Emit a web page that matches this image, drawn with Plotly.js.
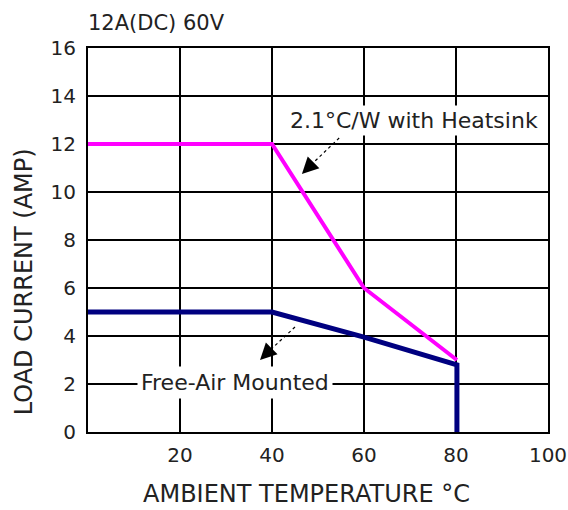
<!DOCTYPE html>
<html>
<head>
<meta charset="utf-8">
<script src="https://cdn.plot.ly/plotly-3.0.1.min.js"></script>
<style>html,body{margin:0;padding:0;background:#fff;}#chart{width:568px;height:510px;}</style>
</head>
<body>
<div id="chart"></div>
<script>
// Data
const tempHeatsink = [0, 40, 60, 80.2];
const currentHeatsink = [12, 12, 6, 3];
const tempFreeAir = [0, 40, 60, 80.2, 80.2];
const currentFreeAir = [5, 5, 3.95, 2.8, 0];
const xTicks = [20, 40, 60, 80, 100];
const yTicks = [0, 2, 4, 6, 8, 10, 12, 14, 16];

const font = 'DejaVu Sans, Verdana, sans-serif';

const traces = [
  {x: tempHeatsink, y: currentHeatsink, mode: 'lines', line: {color: '#ff00ff', width: 4}, hoverinfo: 'skip'},
  {x: tempFreeAir, y: currentFreeAir, mode: 'lines', line: {color: '#000080', width: 5}, hoverinfo: 'skip'}
];

const layout = {
  width: 568, height: 510,
  margin: {l: 88, r: 20, t: 48, b: 78},
  paper_bgcolor: '#fff', plot_bgcolor: '#fff',
  showlegend: false,
  font: {family: font, color: '#000'},
  xaxis: {
    range: [0, 100], tickvals: xTicks, ticktext: xTicks.map(String),
    showgrid: true, gridcolor: '#000', gridwidth: 1.5, zeroline: false,
    showline: true, linecolor: '#000', linewidth: 2, mirror: true,
    ticks: '', tickfont: {family: font, size: 20, color: '#222'}, ticklabelstandoff: 4,
    fixedrange: true
  },
  yaxis: {
    range: [0, 16], tickvals: yTicks, ticktext: yTicks.map(String),
    showgrid: true, gridcolor: '#000', gridwidth: 1.5, zeroline: false,
    showline: true, linecolor: '#000', linewidth: 2, mirror: true,
    ticks: '', tickfont: {family: font, size: 20, color: '#222'}, ticklabelstandoff: 6,
    fixedrange: true
  },
  shapes: [
    {type: 'line', xref: 'x', yref: 'y', x0: 54.6, y0: 12.25, x1: 47.5, y1: 10.95, line: {color: '#000', width: 1.2, dash: 'dot'}},
    {type: 'line', xref: 'x', yref: 'y', x0: 45, y0: 4.375, x1: 38.4, y1: 3.2, line: {color: '#000', width: 1.2, dash: 'dot'}}
  ],
  annotations: [
    {text: '12A(DC) 60V', xref: 'paper', yref: 'paper', x: -0.005, y: 1.065, xanchor: 'left', yanchor: 'middle', showarrow: false, font: {family: font, size: 21, color: '#222'}},
    {text: 'LOAD CURRENT (AMP)', xref: 'paper', yref: 'paper', x: -0.139, y: 0.39, xanchor: 'center', yanchor: 'middle', textangle: -90, showarrow: false, font: {family: font, size: 24, color: '#222'}},
    {text: 'AMBIENT TEMPERATURE °C', xref: 'paper', yref: 'paper', x: 0.474, y: -0.161, xanchor: 'center', yanchor: 'middle', showarrow: false, font: {family: font, size: 24, color: '#222'}},
    {text: '2.1°C/W with Heatsink', xref: 'x', yref: 'y', x: 70.9, y: 13.0, xanchor: 'center', yanchor: 'middle', showarrow: false, bgcolor: '#fff', borderpad: 2, font: {family: font, size: 22, color: '#222'}},
    {text: 'Free-Air Mounted', xref: 'x', yref: 'y', x: 32, y: 2.05, xanchor: 'center', yanchor: 'middle', showarrow: false, bgcolor: '#fff', borderpad: 3, font: {family: font, size: 22, color: '#222'}},
    {text: '', xref: 'x', yref: 'y', x: 46.5, y: 10.75, ax: 12, ay: -12, showarrow: true, arrowhead: 2, arrowsize: 1.5, arrowwidth: 2.2, arrowcolor: '#000', standoff: 0},
    {text: '', xref: 'x', yref: 'y', x: 37.4, y: 3.0, ax: 12, ay: -12, showarrow: true, arrowhead: 2, arrowsize: 1.5, arrowwidth: 2.2, arrowcolor: '#000', standoff: 0}
  ]
};

Plotly.newPlot('chart', traces, layout, {displayModeBar: false, staticPlot: true});
</script>
</body>
</html>
